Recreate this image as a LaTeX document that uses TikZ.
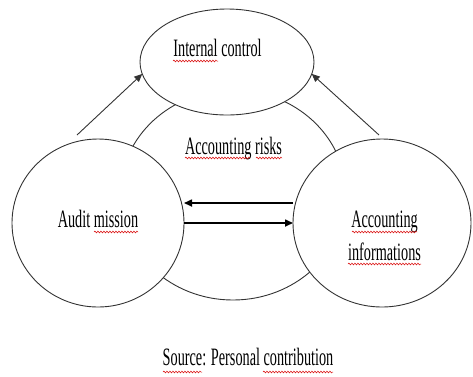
\documentclass[tikz,border=0pt]{standalone}
\usepackage{fontspec}
\usepackage{graphicx}
\setmainfont{Liberation Serif}
\usetikzlibrary{shapes.geometric,arrows.meta,decorations.pathmorphing}

% narrow, tall lettering used for every label
\newcommand\narrow[1]{\scalebox{0.57}[1]{#1}}

\tikzset{
  bubble/.style={ellipse, draw=black!80, line width=0.9pt, fill=white,
    inner sep=0pt, outer sep=0pt},
  lbl/.style={font=\fontsize{25}{33}\selectfont, inner sep=0pt, anchor=base},
  thinarrow/.style={draw=black!80, line width=0.9pt,
    -{Triangle[length=8pt,width=7pt]}},
  thickarrow/.style={draw=black, line width=1.6pt,
    -{Triangle[length=8pt,width=7pt]}},
  squiggle/.style={draw=red!85!black, line width=0.5pt,
    decorate, decoration={snake, amplitude=0.9pt, segment length=3pt}}
}

\begin{document}
\begin{tikzpicture}[x=1pt, y=-1pt]
  \useasboundingbox (0,0) rectangle (473,376);

  % central area and the three surrounding bubbles
  \node[bubble, fill=none, minimum width=226, minimum height=210] (risk) at (233,195) {};
  \node[bubble, minimum width=174, minimum height=106] (ic) at (227,62) {};
  \node[bubble, minimum width=172, minimum height=168] (am) at (98,223) {};
  \node[bubble, minimum width=178, minimum height=168] (ai) at (382,223) {};

  % labels
  \node[lbl] (icl) at (217.5,56) {\narrow{Internal control}};
  \node[lbl] (rl) at (233.5,154) {\narrow{Accounting risks}};
  \node[lbl] (aml) at (98,227) {\narrow{Audit mission}};
  \node[lbl] (ail1) at (384.5,227) {\narrow{Accounting}};
  \node[lbl] (ail2) at (384.5,260) {\narrow{informations}};
  \node[lbl] (src) at (248,365) {\narrow{Source: Personal contribution}};

  % free ends of the two rising arrows
  \coordinate (ls) at (77,135);
  \coordinate (rs) at (379,135);

  % connectors
  \draw[thinarrow] (ls) -- (ic.188);
  \draw[thinarrow] (rs) -- (ic.352);
  \draw[thickarrow] ([yshift=20pt]ai.west) -- ([yshift=20pt]am.east);
  \draw[thickarrow] (am.east) -- (ai.west);

  % spelling marks under some words
  \draw[squiggle] (173,61) -- (218,61);
  \draw[squiggle] (185,158) -- (250,158);
  \draw[squiggle] (256,158) -- (282,158);
  \draw[squiggle] (94,232) -- (138,232);
  \draw[squiggle] (352,232) -- (417,232);
  \draw[squiggle] (348,264) -- (421,264);
  \draw[squiggle] (163,372) -- (202,372);
  \draw[squiggle] (263,372) -- (333,372);
\end{tikzpicture}
\end{document}
